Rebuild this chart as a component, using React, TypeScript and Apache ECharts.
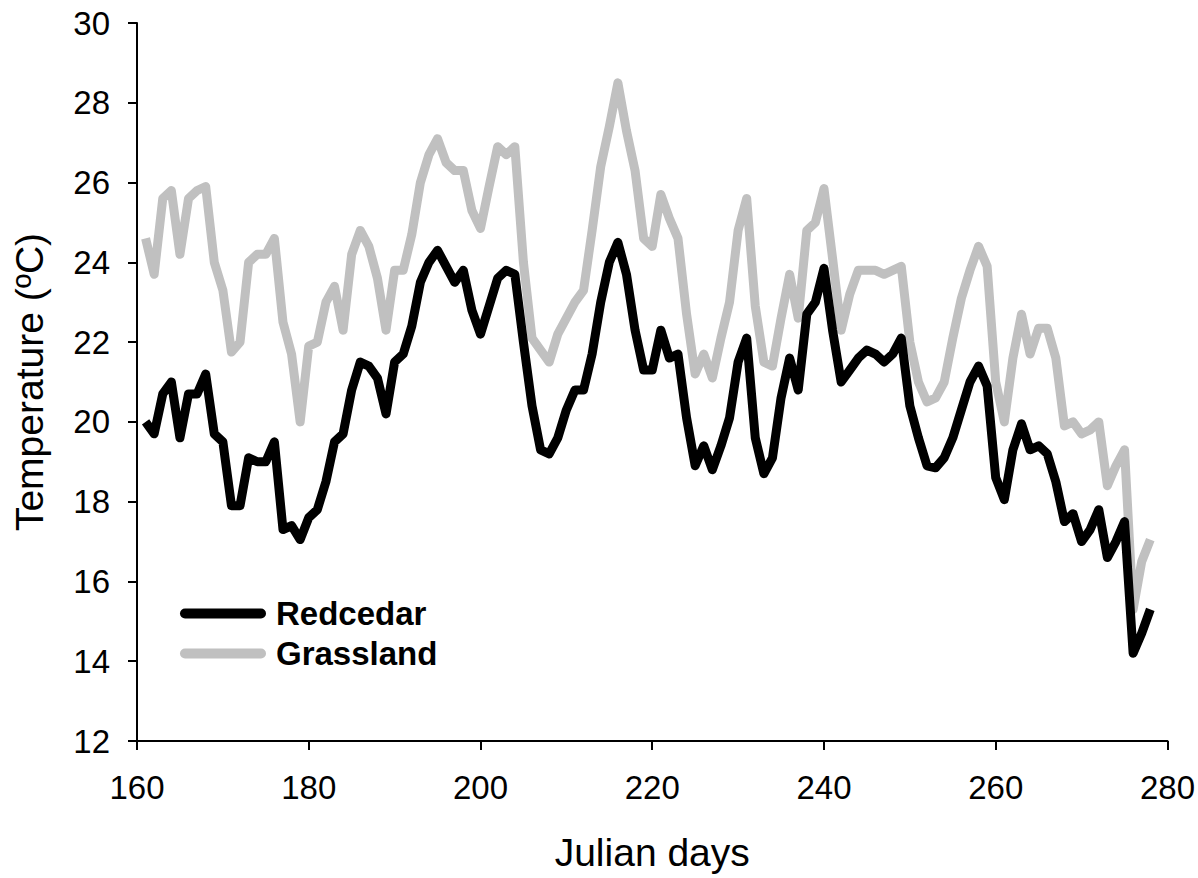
import React, { useEffect, useRef } from "react";
import * as echarts from "echarts";

const startDay = 161;
const redcedar = [
  20.0, 19.7, 20.7, 21.0, 19.6, 20.7, 20.7, 21.2, 19.7, 19.5,
  17.9, 17.9, 19.1, 19.0, 19.0, 19.5, 17.3, 17.4, 17.05, 17.6,
  17.8, 18.5, 19.5, 19.7, 20.8, 21.5, 21.4, 21.1, 20.2, 21.5,
  21.7, 22.4, 23.5, 24.0, 24.3, 23.9, 23.5, 23.8, 22.8, 22.2,
  22.9, 23.6, 23.8, 23.7, 22.0, 20.4, 19.3, 19.2, 19.6, 20.3,
  20.8, 20.8, 21.7, 23.0, 24.0, 24.5, 23.7, 22.3, 21.3, 21.3,
  22.3, 21.6, 21.7, 20.1, 18.9, 19.4, 18.8, 19.4, 20.1, 21.5,
  22.1, 19.6, 18.7, 19.1, 20.6, 21.6, 20.8, 22.7, 23.0, 23.85,
  22.3, 21.0, 21.3, 21.6, 21.8, 21.7, 21.5, 21.7, 22.1, 20.4,
  19.6, 18.9, 18.85, 19.1, 19.6, 20.3, 21.0, 21.4, 20.9, 18.6,
  18.05, 19.3, 19.95, 19.3, 19.4, 19.2, 18.5, 17.5, 17.7, 17.0,
  17.3, 17.8, 16.6, 17.0, 17.5, 14.2, 14.7, 15.3,
];
const grassland = [
  24.6, 23.7, 25.6, 25.8, 24.2, 25.6, 25.8, 25.9, 24.0, 23.3,
  21.75, 22.0, 24.0, 24.2, 24.2, 24.6, 22.5, 21.7, 20.0, 21.9,
  22.0, 23.0, 23.4, 22.3, 24.2, 24.8, 24.4, 23.6, 22.3, 23.8,
  23.8, 24.7, 26.0, 26.7, 27.1, 26.5, 26.3, 26.3, 25.3, 24.85,
  25.9, 26.9, 26.7, 26.9, 24.0, 22.1, 21.8, 21.5, 22.2, 22.6,
  23.0, 23.3, 24.8, 26.4, 27.4, 28.5, 27.3, 26.3, 24.6, 24.4,
  25.7, 25.1, 24.6, 22.7, 21.2, 21.7, 21.1, 22.1, 23.0, 24.8,
  25.6, 22.9, 21.5, 21.4, 22.6, 23.7, 22.6, 24.8, 25.0, 25.85,
  24.1, 22.3, 23.2, 23.8, 23.8, 23.8, 23.7, 23.8, 23.9, 22.0,
  21.0, 20.5, 20.6, 21.0, 22.1, 23.1, 23.8, 24.4, 23.9, 21.0,
  20.0, 21.6, 22.7, 21.7, 22.35, 22.35, 21.6, 19.9, 20.0, 19.7,
  19.8, 20.0, 18.4, 18.9, 19.3, 15.3, 16.5, 17.05,
];
const seriesNames = ["Redcedar", "Grassland"];
const xName = "Julian days";
const yName = "Temperature (ºC)";

const font = "Liberation Sans, Arial, sans-serif";
const capsule = "path://M5,0 L81,0 A5,5 0 0 1 81,10 L5,10 A5,5 0 0 1 5,0 Z";

export default function App() {
  const ref = useRef<HTMLDivElement>(null);
  useEffect(() => {
    if (!ref.current) return;
    const chart = echarts.init(ref.current, null, { renderer: "svg" });
    const toPairs = (arr: number[]) => arr.map((v, i) => [startDay + i, v]);
    const axisLine = { show: true, lineStyle: { color: "#000", width: 2 } };
    chart.setOption({
      animation: false,
      backgroundColor: "#fff",
      grid: { left: 137, right: 30, top: 23, bottom: 137, containLabel: false },
      legend: {
        orient: "vertical",
        left: 175,
        top: 592,
        itemWidth: 86,
        itemHeight: 10,
        itemGap: 7,
        icon: capsule,
        data: seriesNames,
        textStyle: {
          fontFamily: font,
          fontSize: 33,
          lineHeight: 33,
          fontWeight: "bold",
          color: "#000",
          padding: [0, 0, 0, 5],
        },
      },
      xAxis: {
        type: "value",
        min: 160,
        max: 280,
        interval: 20,
        name: xName,
        nameLocation: "middle",
        nameGap: 92,
        nameTextStyle: { fontFamily: font, fontSize: 39, color: "#000" },
        axisLine,
        axisTick: { show: true, length: 9, lineStyle: { color: "#000", width: 2 } },
        axisLabel: { fontFamily: font, fontSize: 33, color: "#000", margin: 30 },
        splitLine: { show: false },
      },
      yAxis: {
        type: "value",
        min: 12,
        max: 30,
        interval: 2,
        name: yName,
        nameLocation: "middle",
        nameGap: 88,
        nameTextStyle: { fontFamily: font, fontSize: 39, color: "#000" },
        axisLine,
        axisTick: { show: true, length: 9, lineStyle: { color: "#000", width: 2 } },
        axisLabel: { fontFamily: font, fontSize: 33, color: "#000", margin: 27 },
        splitLine: { show: false },
      },
      series: [
        {
          name: seriesNames[1],
          type: "line",
          data: toPairs(grassland),
          showSymbol: false,
          symbol: "none",
          z: 2,
          itemStyle: { color: "#c0c0c0" },
          lineStyle: { color: "#c0c0c0", width: 9, join: "round" },
        },
        {
          name: seriesNames[0],
          type: "line",
          data: toPairs(redcedar),
          showSymbol: false,
          symbol: "none",
          z: 3,
          itemStyle: { color: "#000" },
          lineStyle: { color: "#000", width: 9, join: "round" },
        },
      ],
    });
    return () => chart.dispose();
  }, []);
  return (
    <div
      ref={ref}
      style={{ position: "absolute", left: 0, top: 0, width: 1198, height: 878 }}
    />
  );
}
